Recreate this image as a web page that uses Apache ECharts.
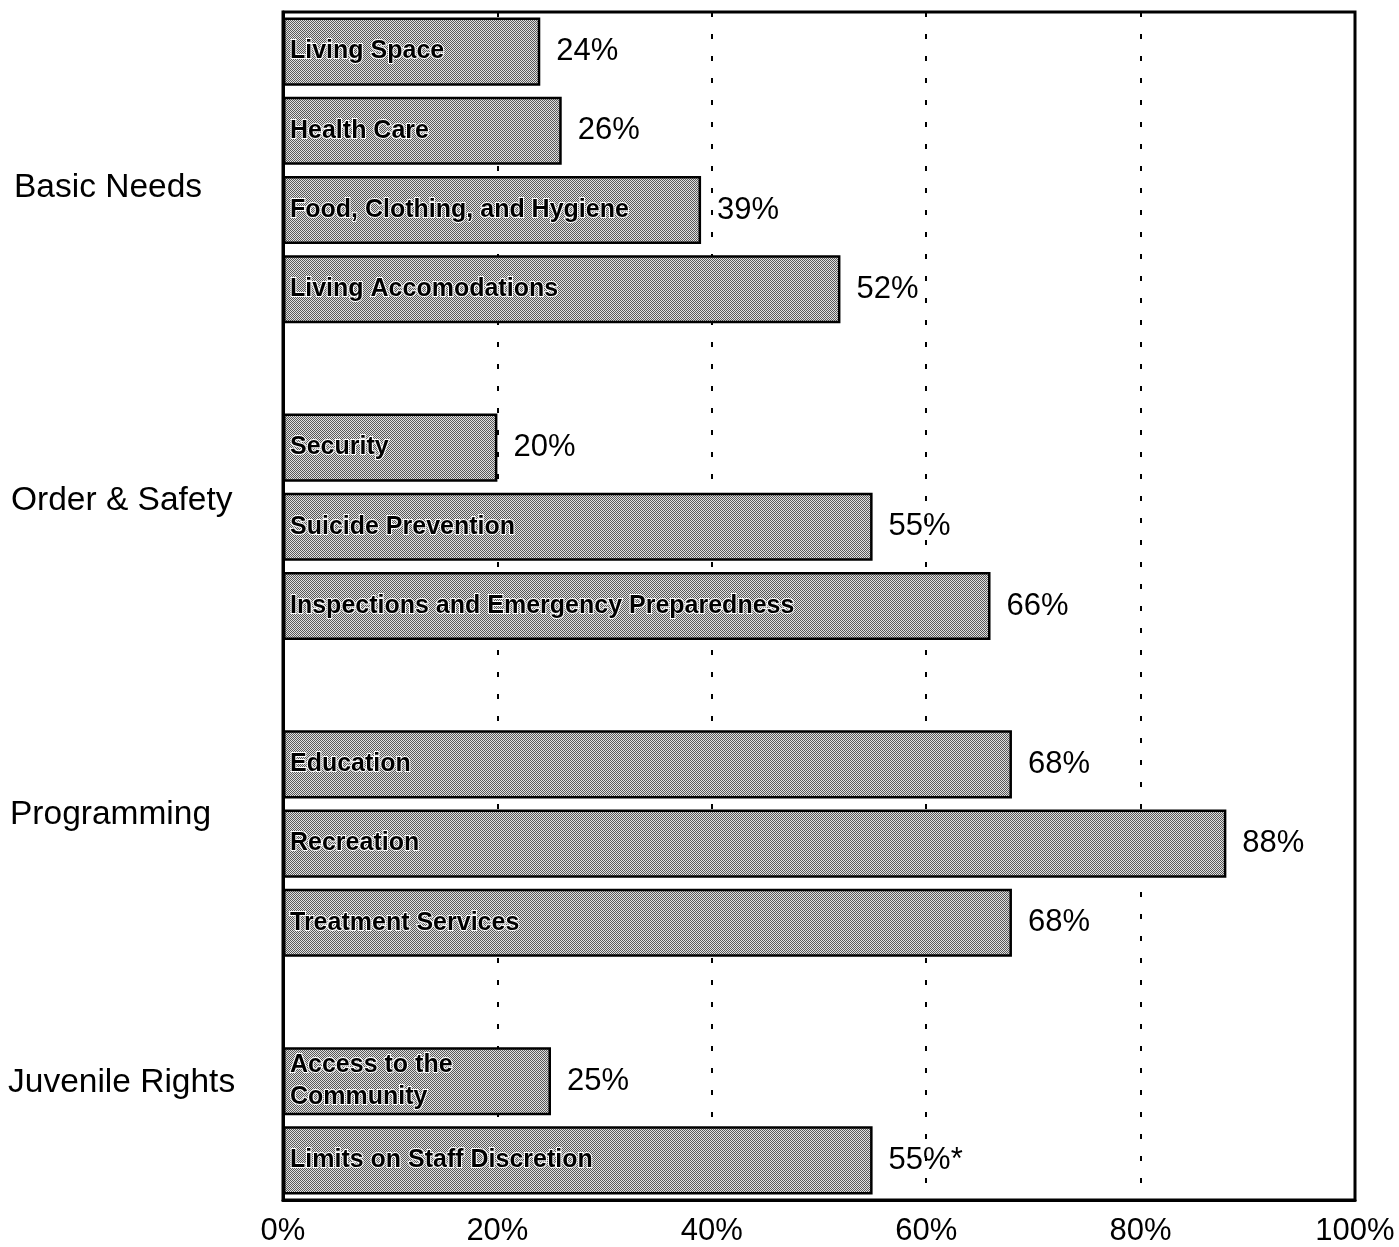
<!DOCTYPE html>
<html><head><meta charset="utf-8">
<script src="https://cdn.jsdelivr.net/npm/echarts@6/dist/echarts.min.js"></script>
<style>html,body{margin:0;padding:0;background:#fff}#c{width:1399px;height:1247px}</style>
</head><body><div id="c"></div>
<script>
// ---- data ----
const groups = ['Basic Needs', 'Order & Safety', 'Programming', 'Juvenile Rights'];
const basicNeedsItems = ['Living Space', 'Health Care', 'Food, Clothing, and Hygiene', 'Living Accomodations'];
const basicNeedsValues = [24, 26, 39, 52];
const orderSafetyItems = ['Security', 'Suicide Prevention', 'Inspections and Emergency Preparedness'];
const orderSafetyValues = [20, 55, 66];
const programmingItems = ['Education', 'Recreation', 'Treatment Services'];
const programmingValues = [68, 88, 68];
const rightsItems = ['Access to the\nCommunity', 'Limits on Staff Discretion'];
const rightsValues = [25, 55];
const rightsNotes = ['', '*'];
const xTicks = [0, 20, 40, 60, 80, 100];

// ---- build ----
const groupItems = [basicNeedsItems, orderSafetyItems, programmingItems, rightsItems];
const groupValues = [basicNeedsValues, orderSafetyValues, programmingValues, rightsValues];
const groupNotes = [[], [], [], rightsNotes];
const categories = [], values = [], suffixes = [];
groupItems.forEach((items, gi) => {
  if (gi > 0) { categories.push('gap' + gi); values.push('-'); suffixes.push(''); }
  items.forEach((it, i) => { categories.push(it); values.push(groupValues[gi][i]); suffixes.push(groupNotes[gi][i] || ''); });
});

const pc = document.createElement('canvas'); pc.width = 2; pc.height = 2;
const ctx = pc.getContext('2d');
ctx.fillStyle = '#e0e0e0'; ctx.fillRect(0, 0, 2, 2);
ctx.fillStyle = '#585858'; ctx.fillRect(0, 0, 1, 1); ctx.fillRect(1, 1, 1, 1);

const FONT = "'Liberation Sans', Arial, Helvetica, sans-serif";
const groupLabelX = [14, 11, 10, 8];
const groupLabelY = [190, 503, 817, 1085];

const chart = echarts.init(document.getElementById('c'), null, { renderer: 'canvas' });
chart.setOption({
  backgroundColor: '#fff',
  animation: false,
  grid: { left: 283, right: 44, top: 12, bottom: 47, show: true, borderColor: '#000', borderWidth: 3, backgroundColor: 'transparent' },
  xAxis: {
    type: 'value', min: xTicks[0], max: xTicks[xTicks.length - 1], interval: xTicks[1] - xTicks[0],
    axisLine: { show: true, lineStyle: { color: '#000', width: 3 } },
    axisTick: { show: false },
    axisLabel: { formatter: '{value}%', color: '#000', fontSize: 31, fontFamily: FONT, margin: 16 },
    splitLine: { show: true, lineStyle: { color: '#000', width: 2, type: [5, 17] } }
  },
  yAxis: {
    type: 'category', data: categories, inverse: true,
    axisLine: { show: true, lineStyle: { color: '#000', width: 3 } },
    axisTick: { show: false }, axisLabel: { show: false }, splitLine: { show: false }
  },
  graphic: groups.map((g, i) => ({
    type: 'text', left: groupLabelX[i], top: groupLabelY[i] - 19,
    style: { text: g, fontSize: 33.5, fontFamily: FONT, fill: '#000' }
  })),
  series: [
    {
      type: 'bar', data: values, barCategoryGap: '14%',
      itemStyle: { color: { image: pc, repeat: 'repeat' }, borderColor: '#000', borderWidth: 2.5 },
      label: {
        show: true, position: 'insideLeft', distance: 7,
        formatter: p => categories[p.dataIndex],
        fontSize: 25, fontWeight: 'bold', fontFamily: FONT, color: '#000',
        textBorderColor: '#fff', textBorderWidth: 2, lineHeight: 32
      },
      z: 3
    },
    {
      type: 'bar', data: values, barGap: '-100%', barCategoryGap: '14%',
      itemStyle: { color: 'transparent' },
      label: {
        show: true, position: 'right', distance: 16,
        formatter: p => p.value + '%' + suffixes[p.dataIndex],
        fontSize: 31, fontFamily: FONT, color: '#000'
      },
      silent: true, z: 4
    }
  ]
});
</script></body></html>
